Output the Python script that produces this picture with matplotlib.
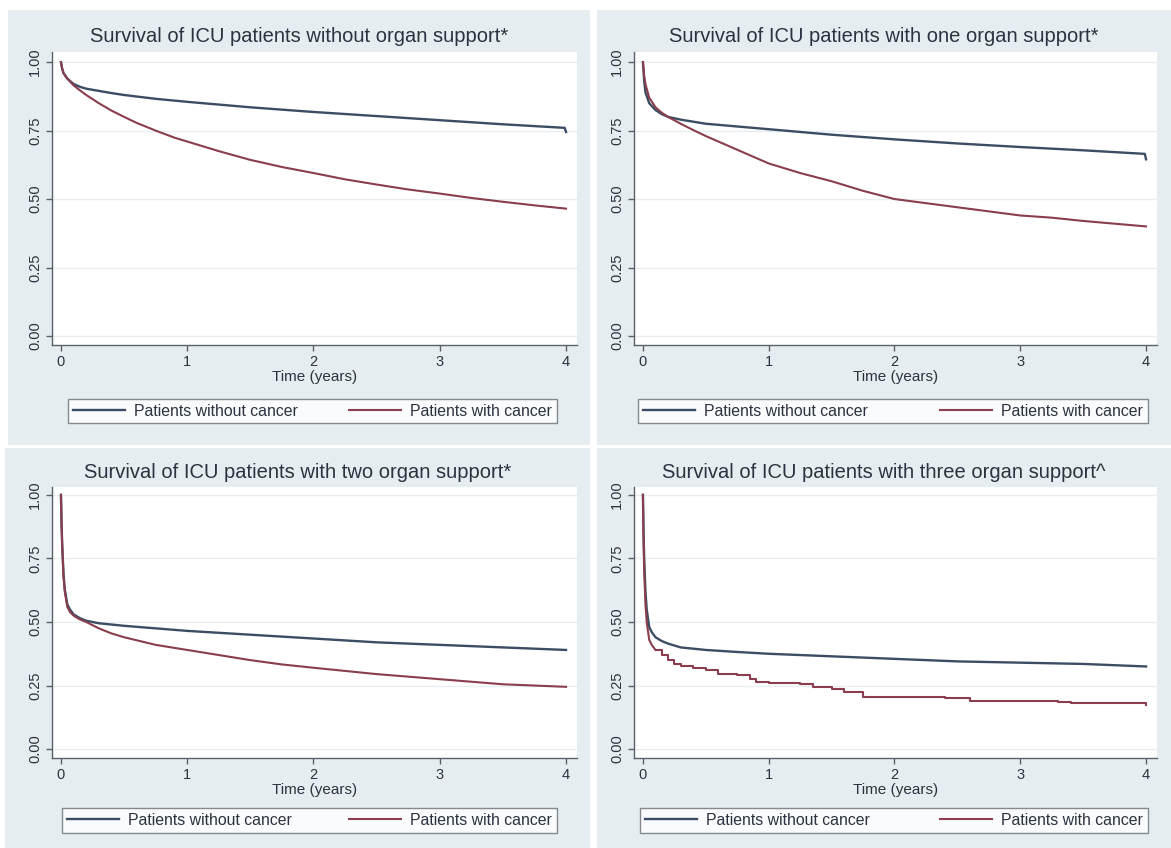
import numpy as np
import matplotlib
matplotlib.use("Agg")
import matplotlib.pyplot as plt
from matplotlib.patches import Rectangle

plt.rcParams["font.family"] = ["Liberation Sans", "DejaVu Sans"]

# Kaplan-Meier curves (time in years, survival fraction)
titles = [
    "Survival of ICU patients without organ support*",
    "Survival of ICU patients with one organ support*",
    "Survival of ICU patients with two organ support*",
    "Survival of ICU patients with three organ support^",
]

t_no0 = [0, 0.01, 0.02, 0.05, 0.1, 0.15, 0.2, 0.3, 0.4, 0.5, 0.75, 1, 1.5, 2, 2.5, 3, 3.5, 3.99, 4.0]
s_no0 = [1.0, 0.975, 0.96, 0.94, 0.92, 0.91, 0.903, 0.895, 0.887, 0.88, 0.866, 0.855, 0.835, 0.818,
         0.803, 0.788, 0.773, 0.760, 0.745]
t_ca0 = [0, 0.01, 0.02, 0.05, 0.1, 0.15, 0.2, 0.3, 0.4, 0.5, 0.6, 0.75, 0.9, 1, 1.25, 1.5, 1.75, 2,
         2.25, 2.5, 2.75, 3, 3.25, 3.5, 3.75, 4.0]
s_ca0 = [1.0, 0.975, 0.96, 0.94, 0.915, 0.897, 0.88, 0.85, 0.823, 0.80, 0.778, 0.75, 0.724, 0.71,
         0.675, 0.643, 0.617, 0.595, 0.572, 0.553, 0.535, 0.52, 0.504, 0.49, 0.477, 0.465]

t_no1 = [0, 0.01, 0.02, 0.05, 0.1, 0.15, 0.2, 0.3, 0.5, 0.75, 1, 1.5, 2, 2.5, 3, 3.5, 3.99, 4.0]
s_no1 = [1.0, 0.93, 0.89, 0.85, 0.825, 0.81, 0.80, 0.79, 0.775, 0.765, 0.755, 0.735, 0.718, 0.703,
         0.69, 0.678, 0.665, 0.645]
t_ca1 = [0, 0.01, 0.02, 0.05, 0.1, 0.15, 0.2, 0.3, 0.4, 0.5, 0.6, 0.75, 0.9, 1, 1.25, 1.5, 1.75, 2,
         2.25, 2.5, 2.75, 3, 3.25, 3.5, 3.75, 4.0]
s_ca1 = [1.0, 0.95, 0.92, 0.87, 0.835, 0.815, 0.80, 0.775, 0.752, 0.73, 0.71, 0.68, 0.65, 0.63, 0.595,
         0.565, 0.53, 0.50, 0.485, 0.47, 0.455, 0.44, 0.432, 0.42, 0.41, 0.40]

t_no2 = [0, 0.005, 0.01, 0.02, 0.03, 0.05, 0.07, 0.1, 0.15, 0.2, 0.3, 0.5, 0.75, 1, 1.5, 2, 2.5, 3,
         3.5, 4.0]
s_no2 = [1.0, 0.88, 0.80, 0.69, 0.63, 0.57, 0.55, 0.53, 0.515, 0.505, 0.495, 0.485, 0.475, 0.465,
         0.45, 0.435, 0.42, 0.41, 0.40, 0.39]
t_ca2 = [0, 0.005, 0.01, 0.02, 0.03, 0.05, 0.07, 0.1, 0.15, 0.2, 0.3, 0.4, 0.5, 0.75, 1, 1.25, 1.5,
         1.75, 2, 2.5, 3, 3.5, 4.0]
s_ca2 = [1.0, 0.88, 0.80, 0.68, 0.62, 0.56, 0.54, 0.525, 0.51, 0.50, 0.475, 0.455, 0.44, 0.41, 0.39,
         0.37, 0.35, 0.333, 0.32, 0.295, 0.275, 0.255, 0.245]

t_no3 = [0, 0.005, 0.01, 0.02, 0.03, 0.05, 0.07, 0.1, 0.15, 0.2, 0.3, 0.5, 0.75, 1, 1.5, 2, 2.5, 3,
         3.5, 4.0]
s_no3 = [1.0, 0.85, 0.75, 0.62, 0.55, 0.48, 0.46, 0.44, 0.425, 0.415, 0.40, 0.39, 0.382, 0.375,
         0.365, 0.355, 0.345, 0.34, 0.335, 0.325]
t_ca3 = [0, 0.005, 0.01, 0.02, 0.03, 0.05, 0.07, 0.1, 0.15, 0.2, 0.25, 0.3, 0.4, 0.5, 0.6, 0.75,
         0.85, 0.9, 1.0, 1.25, 1.35, 1.5, 1.6, 1.75, 2.0, 2.4, 2.6, 3.0, 3.3, 3.4, 3.8, 4.0]
s_ca3 = [1.0, 0.82, 0.70, 0.57, 0.50, 0.43, 0.41, 0.39, 0.37, 0.35, 0.335, 0.325, 0.32, 0.31, 0.295,
         0.29, 0.275, 0.265, 0.26, 0.255, 0.245, 0.235, 0.225, 0.205, 0.205, 0.20, 0.19, 0.19, 0.185,
         0.18, 0.18, 0.175]
n_smooth_ca3 = 8  # first points of the three-organ cancer curve drawn as a smooth drop

curves = [
    (t_no0, s_no0, t_ca0, s_ca0),
    (t_no1, s_no1, t_ca1, s_ca1),
    (t_no2, s_no2, t_ca2, s_ca2),
    (t_no3, s_no3, t_ca3, s_ca3),
]

xticks = [0, 1, 2, 3, 4]
yticks = [0.0, 0.25, 0.5, 0.75, 1.0]
ytick_labels = ["0.00", "0.25", "0.50", "0.75", "1.00"]
legend_labels = ["Patients without cancer", "Patients with cancer"]

W, H = 1171, 848
BG = "#e6edf1"
TXT = "#2c3240"
C_NO = "#3b4d64"
C_CA = "#8a3d4d"

# pixel layout: panel box, axes box, legend box, title y
panels = [(8, 10, 590, 445), (597, 10, 1171, 445), (5, 448, 590, 848), (597, 448, 1171, 848)]
axes_px = [(52, 52, 577, 345), (634, 52, 1157, 345), (52, 487, 577, 758), (634, 487, 1157, 758)]
legend_px = [(68, 396, 557, 426), (638, 396, 1148, 426), (62, 806, 557, 835), (640, 806, 1148, 835)]
title_y = [36, 36, 473, 473]
ylims = [(-0.033, 1.037), (-0.033, 1.037), (-0.035, 1.031), (-0.035, 1.031)]


def fx(x):
    return x / W


def fy(y):
    return 1 - y / H


fig = plt.figure(figsize=(W / 100, H / 100), dpi=100, facecolor="white")

for i in range(4):
    px0, py0, px1, py1 = panels[i]
    fig.patches.append(Rectangle((fx(px0), fy(py1)), fx(px1 - px0), (py1 - py0) / H,
                                 transform=fig.transFigure, facecolor=BG, edgecolor="none", zorder=-5))

    ax0, ay0, ax1, ay1 = axes_px[i]
    ax = fig.add_axes([fx(ax0), fy(ay1), fx(ax1 - ax0), (ay1 - ay0) / H])
    ax.set_facecolor("white")
    t_no, s_no, t_ca, s_ca = curves[i]
    l1, = ax.plot(t_no, s_no, color=C_NO, lw=1.7)
    if i == 3:
        k = n_smooth_ca3
        l2, = ax.plot(t_ca[:k], s_ca[:k], color=C_CA, lw=1.5)
        ax.plot(t_ca[k - 1:], s_ca[k - 1:], color=C_CA, lw=1.5, drawstyle="steps-post")
    else:
        l2, = ax.plot(t_ca, s_ca, color=C_CA, lw=1.5)

    ax.set_xlim(-0.071, 4.087)
    ax.set_ylim(*ylims[i])
    ax.set_xticks(xticks)
    ax.set_yticks(yticks)
    ax.set_yticklabels(ytick_labels, rotation=90, va="center")
    ax.grid(axis="y", color="#e8eef2", lw=1)
    ax.set_axisbelow(True)
    for s in ["top", "right"]:
        ax.spines[s].set_visible(False)
    for s in ["left", "bottom"]:
        ax.spines[s].set_color("#5a5f68")
        ax.spines[s].set_linewidth(1.0)
    ax.tick_params(colors="#5a5f68", labelcolor=TXT, labelsize=10.5, length=4, width=1, pad=3)
    ax.set_xlabel("Time (years)", fontsize=11, color=TXT, labelpad=1)

    fig.text(fx((px0 + px1) / 2), fy(title_y[i]), titles[i], ha="center", va="center",
             fontsize=14.5, color=TXT)

    lx0, ly0, lx1, ly1 = legend_px[i]
    leg = fig.legend([l1, l2], legend_labels, ncol=2, mode="expand",
                     bbox_to_anchor=(fx(lx0), fy(ly1), fx(lx1 - lx0), (ly1 - ly0) / H),
                     loc="center", fontsize=11.4, frameon=True, fancybox=False,
                     handlelength=3.3, handletextpad=0.6, borderaxespad=0, borderpad=0.3,
                     labelcolor=TXT)
    leg.get_frame().set_edgecolor("#6a6e75")
    leg.get_frame().set_linewidth(1.0)

fig.savefig("out.png", dpi=100, facecolor="white")
